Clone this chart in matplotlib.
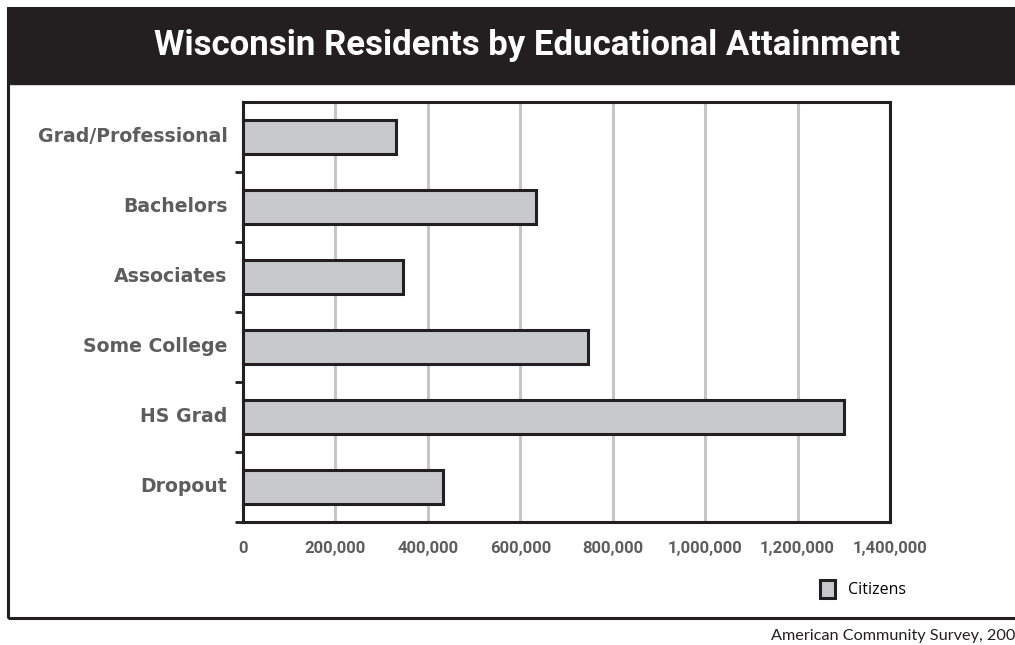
import matplotlib
matplotlib.use("Agg")
import matplotlib.pyplot as plt
from matplotlib.patches import Rectangle

# ---- data --------------------------------------------------------------
categories = ["Grad/Professional", "Bachelors", "Associates",
              "Some College", "HS Grad", "Dropout"]
citizens = [331000, 634000, 346000, 747000, 1301000, 433000]
x_ticks = [0, 200000, 400000, 600000, 800000, 1000000, 1200000, 1400000]
x_tick_labels = ["0", "200,000", "400,000", "600,000", "800,000",
                 "1,000,000", "1,200,000", "1,400,000"]

TITLE = "Wisconsin Residents by Educational Attainment"
SOURCE = "American Community Survey, 200"
DARK = "#231f20"
GREY_TXT = "#5d5d5d"
BAR = "#c8c9cb"

fig = plt.figure(figsize=(10.15, 6.45), dpi=100)

# outer frame + black title band
fig.patches.append(Rectangle((8 / 1015, 1 - 618 / 645), 1.1, (618 - 8) / 645,
                             transform=fig.transFigure, fill=False,
                             edgecolor=DARK, linewidth=2.2))
fig.patches.append(Rectangle((8 / 1015, 1 - 84 / 645), 1.1, 76 / 645,
                             transform=fig.transFigure, facecolor=DARK,
                             edgecolor=DARK))
fig.text(0.519, 1 - 46 / 645, TITLE, ha="center", va="center", color="white",
         fontsize=25, fontweight="bold", family="Roboto")

ax = fig.add_axes([243 / 1015, 1 - 522 / 645, 647 / 1015, 420 / 645])

# categories top to bottom
y = list(range(len(categories)))[::-1]
ax.barh(y, citizens, height=0.48, color=BAR, edgecolor=DARK, linewidth=2.2,
        zorder=3, label="Citizens")

ax.set_xlim(0, 1400000)
ax.set_ylim(-0.5, len(categories) - 0.5)
ax.set_xticks(x_ticks)
ax.set_xticklabels(x_tick_labels, family="Roboto", fontweight="bold",
                   fontsize=12, color=GREY_TXT)
ax.tick_params(axis="x", which="major", length=0, pad=14)
ax.set_xticks([0, 1400000], minor=True)
ax.tick_params(axis="x", which="minor", length=6, width=2, color=DARK)
ax.xaxis.grid(True, color="#c6c6c6", linewidth=2.2, zorder=0)

# category labels sit between the boundary ticks
ax.set_yticks([i + 0.5 for i in range(len(categories) - 1)] + [-0.5])
ax.set_yticklabels([])
ax.tick_params(axis="y", length=6, width=2, color=DARK, direction="out")
for yi, name in zip(y, categories):
    ax.text(-0.024, yi, name, transform=ax.get_yaxis_transform(),
            ha="right", va="center", fontsize=13.6, fontweight="bold",
            color=GREY_TXT, family="DejaVu Sans")

for s in ax.spines.values():
    s.set_color(DARK)
    s.set_linewidth(2.2)

ax.legend(loc="upper left", bbox_to_anchor=(563 / 647, -0.103), frameon=False,
          handlelength=0.9, handleheight=1.4, handletextpad=0.8,
          prop={"family": "Open Sans", "size": 11.5})

fig.text(1.0, 1 - 636 / 645, SOURCE, ha="right", va="center", color=DARK,
         fontsize=11.7, family="Lato")

fig.savefig("out.png", dpi=100)
